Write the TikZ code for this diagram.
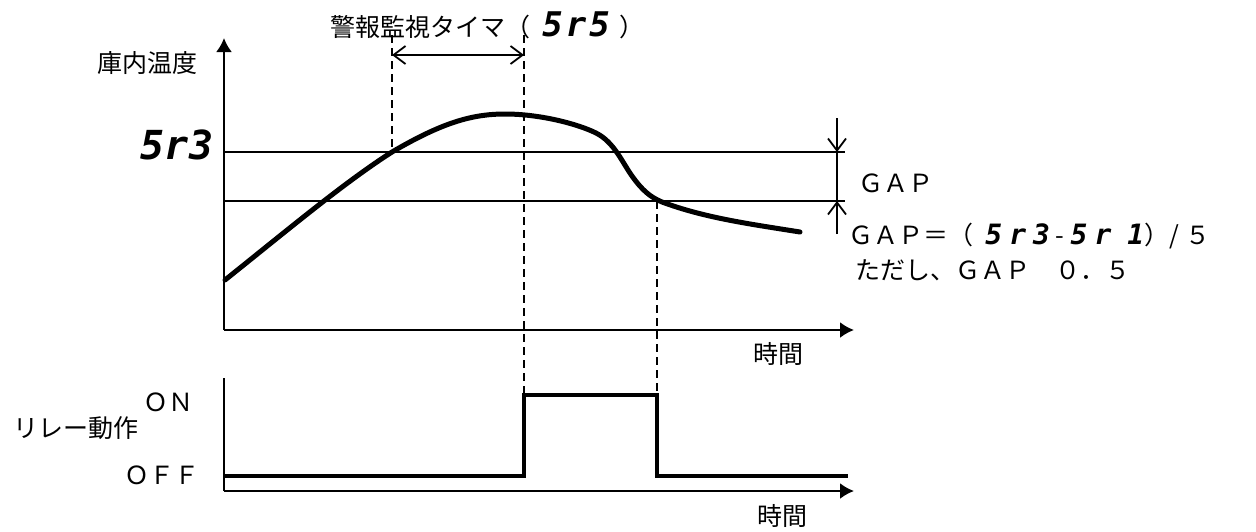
\documentclass[tikz,border=0pt]{standalone}
\usepackage{fontspec}
\setmainfont{Noto Sans CJK JP}
\newfontfamily\segfont{DejaVu Sans Mono Bold Oblique}
\usetikzlibrary{arrows.meta}
\newcommand{\segtxt}[2]{{\segfont\fontsize{#1}{#1}\selectfont #2}}
\begin{document}
\begin{tikzpicture}[x=0.5pt,y=-0.5pt,
  thin/.style={line width=1pt},
  axis/.style={line width=1.1pt,-{Latex[length=7pt,width=8pt]}},
  curve/.style={line width=2.5pt,line cap=round,line join=round},
  relay/.style={line width=2.2pt,line join=miter},
  guide/.style={line width=0.9pt,dash pattern=on 4pt off 2.5pt},
  dim/.style={line width=0.9pt,-{Straight Barb[length=6pt,width=9pt]}},
  dimboth/.style={line width=0.9pt,{Straight Barb[length=6pt,width=9pt]}-{Straight Barb[length=6pt,width=9pt]}},
  lbl/.style={font=\fontsize{12.5}{14}\selectfont,inner sep=0pt}]
\useasboundingbox (0,0) rectangle (1256,531);
% upper chart axes
\coordinate (o1) at (224,330);
\coordinate (yt) at (224,38);
\coordinate (xt1) at (854,330);
\draw[axis] (o1) -- (yt);
\draw[axis] (o1) -- (xt1);
% threshold lines
\coordinate (s3a) at (224,152); \coordinate (s3b) at (845,152);
\coordinate (s1a) at (224,201); \coordinate (s1b) at (845,201);
\draw[thin] (s3a) -- (s3b);
\draw[thin] (s1a) -- (s1b);
% GAP dimension
\coordinate (g1) at (837,152); \coordinate (g2) at (837,201);
\coordinate (gu) at (837,118); \coordinate (gd) at (837,234);
\draw[thin] (g1) -- (g2);
\draw[dim] (gu) -- (g1);
\draw[dim] (gd) -- (g2);
% temperature curve
\draw[curve] (225,280) .. controls (290,228) and (345,182) .. (392,152)
  .. controls (440,124) and (470,114) .. (505,114)
  .. controls (540,114) and (578,124) .. (596,133)
  .. controls (614,142) and (622,162) .. (632,176)
  .. controls (642,190) and (650,197) .. (662,202)
  .. controls (705,218) and (750,224) .. (800,232);
% guide lines
\coordinate (d1t) at (392,35); \coordinate (d1b) at (392,152);
\coordinate (d2t) at (524,35); \coordinate (d2b) at (524,395);
\coordinate (d3t) at (657,201); \coordinate (d3b) at (657,395);
\draw[guide] (d1t) -- (d1b);
\draw[guide] (d2t) -- (d2b);
\draw[guide] (d3t) -- (d3b);
% timer arrow
\coordinate (ta) at (392,55); \coordinate (tb) at (524,55);
\draw[dimboth] (ta) -- (tb);
% lower chart axes
\coordinate (o2) at (224,491);
\coordinate (y2t) at (224,378);
\coordinate (xt2) at (854,491);
\draw[thin] (o2) -- (y2t);
\draw[axis] (o2) -- (xt2);
% relay signal
\draw[relay] (224,476) -- (524,476) -- (524,395) -- (657,395) -- (657,476) -- (848,476);
% labels
\node[lbl,anchor=west] (title) at (330,25) {警報監視タイマ（\hspace{6pt}\segtxt{17}{5\hspace{1.5pt}r\hspace{1.5pt}5}\hspace{5pt}）};
\node[lbl,anchor=east] (ylab) at (198,63) {庫内温度};
\node[inner sep=0pt] (sr3) at (177,145) {\segtxt{20}{5r3}};
\node[lbl,anchor=west] (gap) at (858,183) {ＧＡＰ};
\node[lbl,anchor=west] (formula) at (848,236) {ＧＡＰ＝（\hspace{6pt}\segtxt{14}{5\hspace{3.5pt}r\hspace{3.5pt}3}\hspace{3pt}-\hspace{3pt}\segtxt{14}{5\hspace{3.5pt}r\hspace{8pt}1}）/\hspace{3pt}５};
\node[lbl,anchor=west] (note) at (855,270) {ただし、ＧＡＰ　０．５};
\node[lbl] (t1) at (778,354) {時間};
\node[lbl] (t2) at (782,516) {時間};
\node[lbl] (on) at (168,402) {ＯＮ};
\node[lbl] (relaylab) at (76,428) {リレー動作};
\node[lbl] (off) at (162,475) {ＯＦＦ};
\end{tikzpicture}
\end{document}
